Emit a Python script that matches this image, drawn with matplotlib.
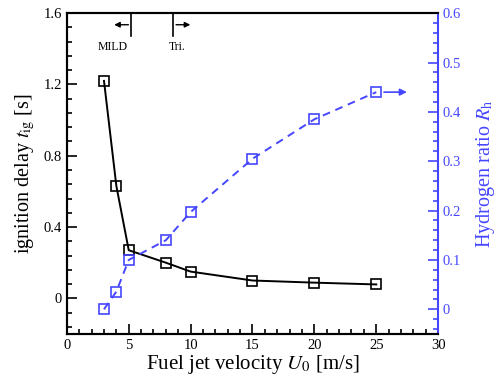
# Ignition delay and hydrogen ratio vs fuel jet velocity
import numpy as np
import matplotlib.pyplot as plt
from matplotlib.ticker import MultipleLocator

plt.rcParams['font.family'] = ['Liberation Serif', 'DejaVu Serif']
plt.rcParams['mathtext.fontset'] = 'stix'

# Data
u0 = [3, 4, 5, 8, 10, 15, 20, 25]
t_ig = [1.22, 0.63, 0.27, 0.20, 0.15, 0.10, 0.088, 0.078]
r_h = [0.0, 0.036, 0.10, 0.14, 0.197, 0.305, 0.385, 0.44]

blue = '#4646ff'

fig = plt.figure(figsize=(4.99, 3.87), dpi=100)
ax = fig.add_axes([0.134, 0.137, 0.744, 0.829])
ax2 = ax.twinx()

ax.plot(u0, t_ig, color='black', lw=1.4, marker='s', ms=7, mfc='none', mew=1.2)
ax2.plot(u0, r_h, color=blue, lw=1.4, ls=(0, (4, 3)), marker='s', ms=7, mfc='none', mew=1.2)

# arrow at the end of the hydrogen ratio curve
ax2.annotate('', xy=(27.7, r_h[-1]), xytext=(u0[-1] + 0.4, r_h[-1]),
             arrowprops=dict(arrowstyle='-|>', color=blue, lw=1.2, mutation_scale=10))

ax.set_xlim(0, 30)
ax.set_ylim(-0.2, 1.6)
ax2.set_ylim(-0.05, 0.6)

ax.xaxis.set_major_locator(MultipleLocator(5))
ax.xaxis.set_minor_locator(MultipleLocator(1))
ax.yaxis.set_major_locator(MultipleLocator(0.4))
ax.yaxis.set_minor_locator(MultipleLocator(0.08))
ax2.yaxis.set_major_locator(MultipleLocator(0.1))
ax2.yaxis.set_minor_locator(MultipleLocator(0.02))

ax.set_yticks([0, 0.4, 0.8, 1.2, 1.6])
ax.set_yticklabels(['0', '0.4', '0.8', '1.2', '1.6'])
ax2.set_yticks([0, 0.1, 0.2, 0.3, 0.4, 0.5, 0.6])
ax2.set_yticklabels(['0', '0.1', '0.2', '0.3', '0.4', '0.5', '0.6'])

ax.tick_params(which='both', direction='in', labelsize=10.5, width=1.2)
ax.tick_params(which='major', length=7)
ax.tick_params(which='minor', length=3.5)
ax2.tick_params(which='both', direction='in', labelsize=10.5, width=1.2,
                colors=blue)
ax2.tick_params(which='major', length=7)
ax2.tick_params(which='minor', length=3.5)

for s in ['left', 'bottom', 'top']:
    ax.spines[s].set_linewidth(1.5)
for s in ['left', 'bottom', 'top']:
    ax2.spines[s].set_linewidth(1.5)
ax2.spines['right'].set_linewidth(1.5)
ax2.spines['right'].set_color(blue)
ax.spines['right'].set_visible(False)

ax.set_xlabel('Fuel jet velocity $U_0$ [m/s]', fontsize=15, labelpad=1)
ax.set_ylabel('ignition delay $t_{\\mathrm{ig}}$ [s]', fontsize=14.5, labelpad=5)
ax2.set_ylabel('Hydrogen ratio $R_\\mathrm{h}$', fontsize=14.5, color=blue, labelpad=9)

# MILD / Tri. regime markers at the top
ax.plot([5.2, 5.2], [1.6, 1.47], color='black', lw=1.2)
ax.plot([8.6, 8.6], [1.6, 1.47], color='black', lw=1.2)
ax.annotate('', xy=(3.6, 1.535), xytext=(5.2, 1.535),
            arrowprops=dict(arrowstyle='-|>', color='black', lw=1, mutation_scale=8))
ax.annotate('', xy=(10.2, 1.535), xytext=(8.6, 1.535),
            arrowprops=dict(arrowstyle='-|>', color='black', lw=1, mutation_scale=8))
ax.text(3.7, 1.41, 'MILD', fontsize=8.5, ha='center', va='center')
ax.text(8.9, 1.41, 'Tri.', fontsize=8.5, ha='center', va='center')

fig.savefig('out.png', dpi=100)
